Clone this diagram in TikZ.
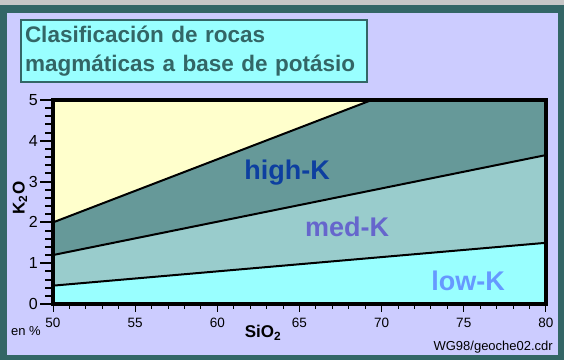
\documentclass[tikz,border=0pt]{standalone}
\usepackage{fontspec}
\setmainfont{Liberation Sans}
\usetikzlibrary{positioning}
\definecolor{frameteal}{HTML}{336666}
\definecolor{lavender}{HTML}{CCCCFF}
\definecolor{titlecyan}{HTML}{99FFFF}
\definecolor{paleyellow}{HTML}{FFFFCC}
\definecolor{highkfill}{HTML}{669999}
\definecolor{medkfill}{HTML}{99CCCC}
\definecolor{lowkfill}{HTML}{99FFFF}
\definecolor{highktext}{HTML}{0D3FA0}
\definecolor{medktext}{HTML}{6666CC}
\definecolor{lowktext}{HTML}{6699FF}

\begin{document}
\begin{tikzpicture}[x=1pt,y=1pt,
  serieslabel/.style={font=\fontsize{27}{27}\selectfont\bfseries},
  xticklabel/.style={font=\fontsize{13.5}{13.5}\selectfont, anchor=north},
  yticklabel/.style={font=\fontsize{16}{16}\selectfont, anchor=east},
  axislabel/.style={font=\fontsize{17}{17}\selectfont\bfseries},
  smalltext/.style={font=\fontsize{13}{13}\selectfont}]
\tikzstyle{every node}+=[inner sep=0pt]
\useasboundingbox (0,0) rectangle (564,-360);
\fill [black!22] (0,0) rectangle (564,-5);
\fill [frameteal] (0,-5) rectangle (564,-360);
\fill [lavender] (7,-13) rectangle (558,-355);
\node [draw=frameteal, line width=2pt, fill=titlecyan, minimum width=346pt, minimum height=62pt,
  text width=338pt, align=left, text=frameteal, font=\fontsize{22.5}{29}\selectfont\bfseries]
  (title) at (194,-51) {Clasificación de rocas\\magmáticas a base de potásio};
% diagram, SiO2 from 50 and K2O in %
\begin{scope}[shift={(53,-304)}, x=16.43pt, y=40.8pt]
\fill [paleyellow] (0,0) rectangle (30,5);
\fill [highkfill] (0,2) -- (19.4,5) -- (30,5) -- (30,0) -- (0,0) -- cycle;
\fill [medkfill] (0,1.2) -- (30,3.65) -- (30,0) -- (0,0) -- cycle;
\fill [lowkfill] (0,0.45) -- (30,1.5) -- (30,0) -- (0,0) -- cycle;
\draw [line width=2pt] (0,2) -- (19.4,5);
\draw [line width=2pt] (0,1.2) -- (30,3.65);
\draw [line width=2pt] (0,0.45) -- (30,1.5);
\foreach \i in {0,...,30}
  \draw [line width=1pt] (\i,0) -- ++(0,-5pt);
\foreach \i in {0,5,...,30} {
  \draw [line width=1pt] (\i,0) -- ++(0,-8pt);
  \pgfmathtruncatemacro{\sio}{50+\i}
  \node [xticklabel] (sio\sio) at ([yshift=-14pt]\i,0) {\sio};
}
\foreach \k in {0,0.2,...,4.9}
  \draw [line width=2pt] (0,\k) -- ++(-8pt,0);
\foreach \k in {0,...,5} {
  \draw [line width=2pt] (0,\k) -- ++(-13pt,0);
  \node [yticklabel] (ktick\k) at ([xshift=-15pt]0,\k) {\k};
}
\draw [line width=4pt] (0,0) rectangle (30,5);
\end{scope}
\node [serieslabel, text=highktext] (highk) at (287,-173) {high-K};
\node [serieslabel, text=medktext] (medk) at (347,-227) {med-K};
\node [serieslabel, text=lowktext] (lowk) at (468,-281) {low-K};
\node [axislabel, rotate=90] (kaxis) at (20,-198) {K\textsubscript{2}O};
\node [axislabel] (siaxis) at (263,-333) {SiO\textsubscript{2}};
\node [smalltext] (unit) at (26,-331) {en \%};
\node [smalltext, anchor=east] (source) at (553,-347) {WG98/geoche02.cdr};
\end{tikzpicture}
\end{document}
